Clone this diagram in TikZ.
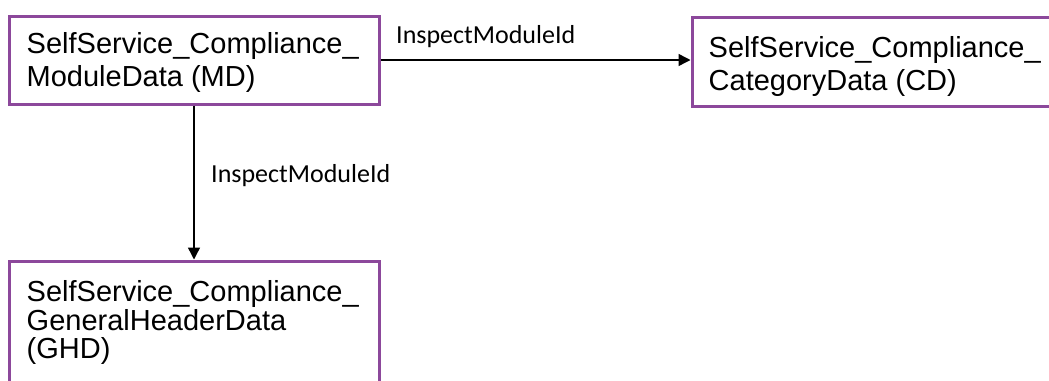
\documentclass[tikz,border=0pt]{standalone}
\usepackage{fontspec}
\setmainfont{Liberation Sans}
\newfontfamily\labelfont{Carlito}
\usetikzlibrary{arrows.meta,calc}
\definecolor{boxpurple}{RGB}{140,72,155}
\tikzset{
  entity/.style={draw=boxpurple, line width=3pt, fill=white, inner sep=0pt, rectangle},
  entitytext/.style={anchor=base west, inner sep=0pt, align=left, font=\fontsize{29}{33}\selectfont},
  conn/.style={line width=1.4pt, -{Triangle[length=12pt,width=12pt]}},
  connlabel/.style={anchor=base west, inner sep=0pt, font=\labelfont\fontsize{26}{30}\selectfont}
}
\begin{document}
\begin{tikzpicture}[x=1pt,y=-1pt]
\useasboundingbox (0,0) rectangle (1049,380);
\clip (0,0) rectangle (1049,380);
\node[entity, minimum width=370pt, minimum height=88pt] (md) at (194,60) {};
\node[entity, minimum width=370pt, minimum height=89pt] (cd) at (877,61.5) {};
\node[entity, minimum width=370pt, minimum height=160pt] (ghd) at (194,341) {};
\node[entitytext] (mdtext) at ($(md.north west)+(19,72)$) {SelfService\_Compliance\_\\ModuleData (MD)};
\node[entitytext] (cdtext) at ($(cd.north west)+(18,74.5)$) {SelfService\_Compliance\_\\CategoryData (CD)};
\node[entitytext, font=\fontsize{29}{28.5}\selectfont] (ghdtext) at ($(ghd.north west)+(19,99)$) {SelfService\_Compliance\_\\GeneralHeaderData\\(GHD)};
\draw[conn] (md.east) -- (md.east -| cd.west);
\draw[conn] (md.south) -- (ghd.north);
\node[connlabel] (lab1) at (396,43) {InspectModuleId};
\node[connlabel] (lab2) at (211,182) {InspectModuleId};
\end{tikzpicture}
\end{document}
